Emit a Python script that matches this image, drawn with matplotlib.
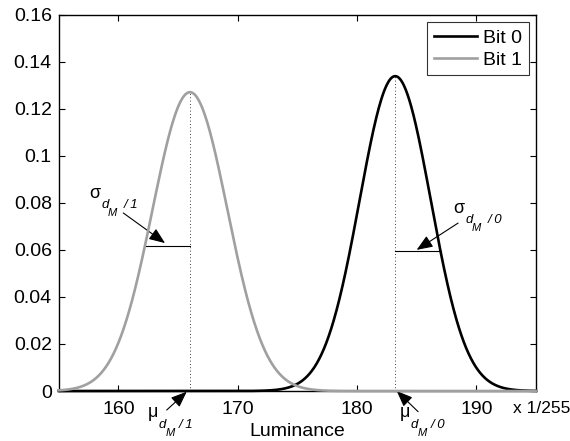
import numpy as np
import matplotlib
matplotlib.use('Agg')
import matplotlib.pyplot as plt

plt.rcParams['font.family'] = ['Liberation Sans', 'DejaVu Sans']

# gaussian parameters (luminance x 1/255)
mu_bit0, sigma_bit0 = 183.2, 2.98
mu_bit1, sigma_bit1 = 166.0, 3.14
series_names = ['Bit 0', 'Bit 1']
# sigma marker segments: (x start, x end, y)
sigma_seg_bit0 = (183.2, 187.0, 0.0597)
sigma_seg_bit1 = (162.2, 166.0, 0.0615)
x_ticks = [160, 170, 180, 190]
y_ticks = [0, 0.02, 0.04, 0.06, 0.08, 0.1, 0.12, 0.14, 0.16]
y_tick_labels = ['0', '0.02', '0.04', '0.06', '0.08', '0.1', '0.12', '0.14', '0.16']

x = np.linspace(155, 195, 800)
def gauss(x, mu, s):
    return np.exp(-0.5 * ((x - mu) / s) ** 2) / (s * np.sqrt(2 * np.pi))

fig = plt.figure(figsize=(5.7, 4.41), dpi=100)
ax = fig.add_axes([58.7 / 570, 1 - 391 / 441, 477.3 / 570, 376.3 / 441])

y0 = gauss(x, mu_bit0, sigma_bit0)
y1 = gauss(x, mu_bit1, sigma_bit1)
ax.plot(x, y0, color='black', lw=1.9, label=series_names[0], zorder=4, clip_on=False)
ax.plot(x, y1, color='#a0a0a0', lw=1.9, label=series_names[1], zorder=4, clip_on=False)

# mean lines
ax.plot([mu_bit0, mu_bit0], [0, gauss(mu_bit0, mu_bit0, sigma_bit0)], color='black', ls=(0, (1, 3)), lw=0.6, zorder=3)
ax.plot([mu_bit1, mu_bit1], [0, gauss(mu_bit1, mu_bit1, sigma_bit1)], color='black', ls=(0, (1, 3)), lw=0.6, zorder=3)
# sigma segments
ax.plot(sigma_seg_bit0[:2], [sigma_seg_bit0[2]] * 2, color='black', lw=0.8, zorder=3)
ax.plot(sigma_seg_bit1[:2], [sigma_seg_bit1[2]] * 2, color='black', lw=0.8, zorder=3)

arr = dict(arrowstyle='-|>,head_length=0.75,head_width=0.3', color='black', lw=0.8,
           shrinkA=0, shrinkB=0, mutation_scale=13)


def sym_label(xy, greek, idx, d_off, m_off, s_off):
    # greek letter with nested italic subscripts (offsets in pixels)
    px = 0.72
    kw = dict(xy=xy, textcoords='offset points', ha='left', va='baseline', annotation_clip=False)
    ax.annotate(greek, xytext=(0, 0), fontsize=13, **kw)
    ax.annotate('d', xytext=(d_off[0] * px, d_off[1] * px), fontsize=9.5, style='italic', **kw)
    ax.annotate('M', xytext=(m_off[0] * px, m_off[1] * px), fontsize=8, style='italic', **kw)
    ax.annotate('/ ' + idx, xytext=(s_off[0] * px, s_off[1] * px), fontsize=9.5, style='italic', **kw)


ax.annotate('', xy=(163.91, 0.0629), xytext=(160.41, 0.0757), arrowprops=arr, annotation_clip=False)
sym_label((157.55, 0.0821), 'σ', '1', (12, -10), (19, -18), (35, -10))
ax.annotate('', xy=(185.0, 0.0600), xytext=(188.47, 0.0714), arrowprops=arr, annotation_clip=False)
sym_label((188.05, 0.0757), 'σ', '0', (12, -10), (19, -18), (35, -10))
ax.annotate('', xy=(165.73, -0.0003), xytext=(164.05, -0.0081), arrowprops=arr, annotation_clip=False)
sym_label((162.45, -0.0111), 'μ', '1', (11, -11), (18, -19), (31, -11))
ax.annotate('', xy=(183.33, 0.0), xytext=(185.12, -0.0088), arrowprops=arr, annotation_clip=False)
sym_label((183.55, -0.0111), 'μ', '0', (11, -11), (18, -19), (31, -11))

ax.set_xlim(155, 195)
ax.set_ylim(0, 0.16)
ax.set_xticks(x_ticks)
ax.set_yticks(y_ticks)
ax.set_yticklabels(y_tick_labels)
ax.tick_params(direction='in', top=True, right=True, labelsize=14, length=4, width=0.8)
ax.tick_params(axis='x', pad=7)
ax.tick_params(axis='y', pad=5)
for sp in ax.spines.values():
    sp.set_linewidth(1.0)
ax.set_xlabel('Luminance', fontsize=14, labelpad=4)
ax.text(193.08, -0.0075, 'x 1/255', fontsize=12.5, ha='left', va='center')

leg = ax.legend(loc='upper right', fontsize=14, frameon=True, fancybox=False,
                edgecolor='black', handlelength=2.2, handletextpad=0.3,
                borderpad=0.35, labelspacing=0.23, borderaxespad=0.38)
leg.get_frame().set_linewidth(0.8)
for line in leg.get_lines():
    line.set_linewidth(1.9)

fig.savefig('out.png', dpi=100)
